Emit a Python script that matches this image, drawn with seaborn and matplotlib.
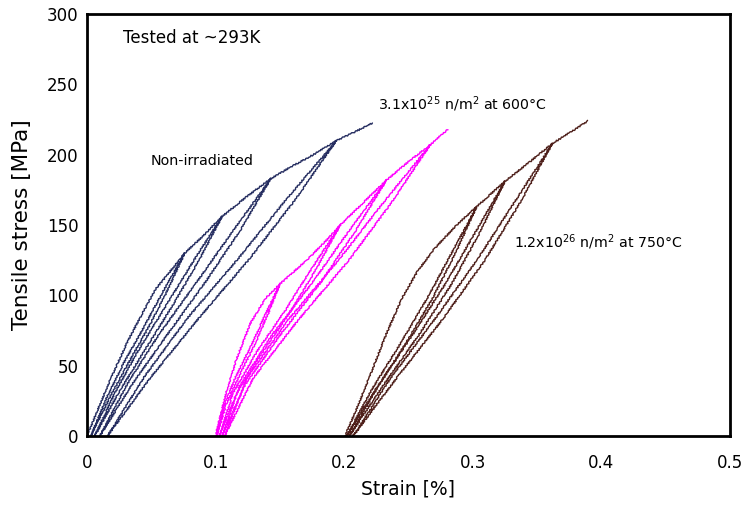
import matplotlib
matplotlib.use("Agg")
import matplotlib.pyplot as plt
from matplotlib.ticker import MultipleLocator
import seaborn as sns

# ---- data (strain [%], stress [MPa]) ----
# non-irradiated: first loading envelope + unload/reload loops
navy_env_x = [0.0, 0.006, 0.019, 0.032, 0.043, 0.053, 0.062, 0.076, 0.090, 0.105,
              0.124, 0.143, 0.158, 0.176, 0.194, 0.208, 0.222]
navy_env_y = [0, 13.5, 42, 68, 87, 104, 114, 130, 142, 156,
              170, 183, 191, 200, 210, 216, 222.5]
navy_loops_x = [
    [0.076, 0.0629, 0.0483, 0.0322, 0.0169, 0.003, 0.0147, 0.0286, 0.0446, 0.0599, 0.076],
    [0.105, 0.0872, 0.0674, 0.0456, 0.0248, 0.006, 0.0218, 0.0407, 0.0624, 0.0832, 0.105],
    [0.143, 0.1191, 0.0925, 0.0632, 0.0353, 0.010, 0.0313, 0.0566, 0.0858, 0.1137, 0.143],
    [0.194, 0.1620, 0.1264, 0.0872, 0.0498, 0.016, 0.0445, 0.0783, 0.1175, 0.1548, 0.194],
]
navy_loops_y = [
    [130, 104, 78, 52, 26, 0, 26, 52, 78, 104, 130],
    [156, 125, 94, 62, 31, 0, 31, 62, 94, 125, 156],
    [183, 146, 110, 73, 37, 0, 37, 73, 110, 146, 183],
    [210, 168, 126, 84, 42, 0, 42, 84, 126, 168, 210],
]

# 3.1x10^25 n/m^2 at 600C
pink_env_x = [0.100, 0.103, 0.108, 0.116, 0.127, 0.139, 0.150, 0.161, 0.172, 0.185,
              0.197, 0.215, 0.233, 0.250, 0.267, 0.2805]
pink_env_y = [0, 12, 30, 54, 80, 98, 108, 117, 126, 138,
              150, 166, 182, 195, 207, 218]
pink_loops_x = [
    [0.150, 0.1407, 0.1304, 0.1186, 0.1079, 0.101, 0.1064, 0.1162, 0.1280, 0.1387, 0.150],
    [0.197, 0.1791, 0.1594, 0.1368, 0.1162, 0.103, 0.1133, 0.1321, 0.1547, 0.1754, 0.197],
    [0.233, 0.2087, 0.1818, 0.1511, 0.1229, 0.105, 0.1191, 0.1447, 0.1754, 0.2036, 0.233],
    [0.267, 0.2366, 0.2030, 0.1646, 0.1294, 0.107, 0.1246, 0.1566, 0.1950, 0.2302, 0.267],
]
pink_loops_y = [
    [108, 86.4, 64.8, 43.2, 21.6, 0, 21.6, 43.2, 64.8, 86.4, 108],
    [150, 120, 90, 60, 30, 0, 30, 60, 90, 120, 150],
    [182, 145.6, 109.2, 72.8, 36.4, 0, 36.4, 72.8, 109.2, 145.6, 182],
    [207, 165.6, 124.2, 82.8, 41.4, 0, 41.4, 82.8, 124.2, 165.6, 207],
]

# 1.2x10^26 n/m^2 at 750C
brown_env_x = [0.2006, 0.210, 0.221, 0.2325, 0.245, 0.257, 0.270, 0.2875, 0.303,
               0.325, 0.3445, 0.362, 0.376, 0.3896]
brown_env_y = [0, 20, 45, 72, 98, 117, 133, 150, 163, 181, 195, 208, 216, 224]
brown_loops_x = [
    [0.303, 0.2868, 0.2687, 0.2475, 0.2242, 0.202, 0.2212, 0.2434, 0.2646, 0.2838, 0.303],
    [0.325, 0.3056, 0.2839, 0.2585, 0.2306, 0.204, 0.2270, 0.2536, 0.2790, 0.3020, 0.325],
    [0.362, 0.3372, 0.3093, 0.2768, 0.2411, 0.207, 0.2365, 0.2706, 0.3031, 0.3326, 0.362],
]
brown_loops_y = [
    [163, 130.4, 97.8, 65.2, 32.6, 0, 32.6, 65.2, 97.8, 130.4, 163],
    [181, 144.8, 108.6, 72.4, 36.2, 0, 36.2, 72.4, 108.6, 144.8, 181],
    [208, 166.4, 124.8, 83.2, 41.6, 0, 41.6, 83.2, 124.8, 166.4, 208],
]

series = [
    (navy_env_x, navy_env_y, navy_loops_x, navy_loops_y, '#252d60'),
    (pink_env_x, pink_env_y, pink_loops_x, pink_loops_y, '#ff00ff'),
    (brown_env_x, brown_env_y, brown_loops_x, brown_loops_y, '#4e1f1a'),
]

sns.set_style('white')
plt.rcParams['font.family'] = ['DejaVu Sans']
plt.rcParams['text.color'] = 'black'
plt.rcParams['axes.labelcolor'] = 'black'

fig = plt.figure(figsize=(7.41, 5.08), dpi=100)
ax = fig.add_axes([0.1174, 0.1417, 0.985 - 0.1174, 0.9724 - 0.1417])

# the measured traces are jagged, give the lines a little roughness
with plt.rc_context({'path.sketch': (0.7, 3, 2)}):
    for env_x, env_y, loops_x, loops_y, col in series:
        sns.lineplot(x=env_x, y=env_y, sort=False, estimator=None, color=col, lw=1.0, ax=ax)
        for lx, ly in zip(loops_x, loops_y):
            sns.lineplot(x=lx, y=ly, sort=False, estimator=None, color=col, lw=1.0, ax=ax)

ax.set_xlim(0, 0.5)
ax.set_ylim(0, 300)
ax.xaxis.set_minor_locator(MultipleLocator(0.02))
ax.yaxis.set_major_locator(MultipleLocator(50))
ax.yaxis.set_minor_locator(MultipleLocator(10))
ax.set_xticks([0, 0.1, 0.2, 0.3, 0.4, 0.5])
ax.set_xticklabels(['0', '0.1', '0.2', '0.3', '0.4', '0.5'])

for s in ax.spines.values():
    s.set_linewidth(2.0)
    s.set_color('black')
ax.tick_params(axis='x', which='major', pad=13)
ax.tick_params(axis='y', which='major', pad=6)
ax.tick_params(which='major', direction='in', length=7, width=2, labelsize=12,
               top=False, right=False, colors='black')
ax.tick_params(which='minor', direction='in', length=5, width=1.5,
               top=False, right=False, colors='black')

ax.set_xlabel('Strain [%]', fontsize=13.5, labelpad=5, color='black')
ax.set_ylabel('Tensile stress [MPa]', fontsize=15.5, color='black')
ax.yaxis.set_label_coords(-0.086, 0.5)

ax.text(0.028, 283, 'Tested at ~293K', fontsize=12, va='center', ha='left', color='black')
ax.text(0.0498, 195.5, 'Non-irradiated', fontsize=10.3, va='center', ha='left', color='black')
ax.text(0.226, 236, r'3.1x10$^{25}$ n/m$^{2}$ at 600°C', fontsize=10.2,
        va='center', ha='left', color='black')
ax.text(0.332, 138, r'1.2x10$^{26}$ n/m$^{2}$ at 750°C', fontsize=10.2,
        va='center', ha='left', color='black')

fig.savefig('out.png', dpi=100)
